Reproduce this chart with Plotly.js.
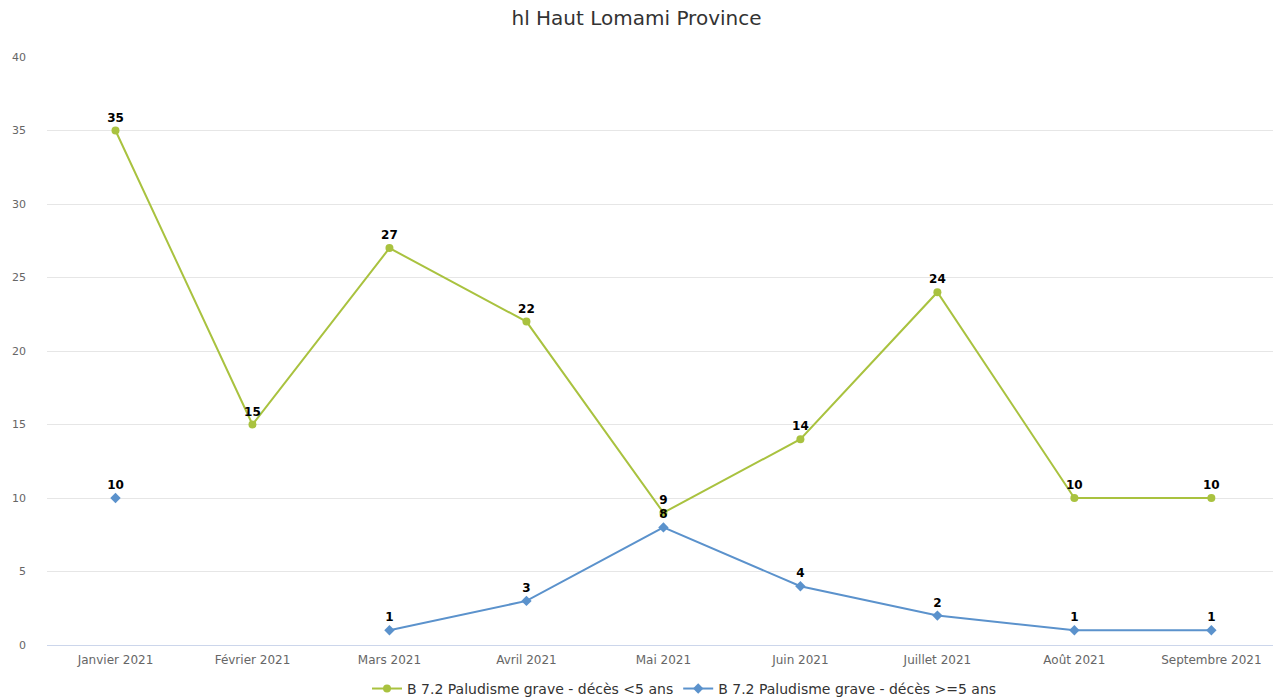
<!DOCTYPE html>
<html>
<head>
<meta charset="utf-8">
<script src="https://cdn.plot.ly/plotly-3.0.1.min.js"></script>
<style>html,body{margin:0;padding:0;background:#fff;}#chart{width:1273px;height:698px;}</style>
</head>
<body>
<div id="chart"></div>
<script>
const months = ["Janvier 2021","Février 2021","Mars 2021","Avril 2021","Mai 2021","Juin 2021","Juillet 2021","Août 2021","Septembre 2021"];
const under5 = [35, 15, 27, 22, 9, 14, 24, 10, 10];
const over5 = [10, null, 1, 3, 8, 4, 2, 1, 1];
const seriesNames = ["B 7.2 Paludisme grave - décès <5 ans", "B 7.2 Paludisme grave - décès >=5 ans"];
const yTicks = [0, 5, 10, 15, 20, 25, 30, 35, 40];

const labelFont = {family: "DejaVu Sans, sans-serif", size: 12, color: "#000", weight: "bold"};

const traces = [
  {
    x: months, y: under5, name: seriesNames[0], type: "scatter",
    mode: "lines+markers+text",
    line: {color: "#a9c23f", width: 2},
    marker: {color: "#a9c23f", size: 8, symbol: "circle"},
    text: under5.map(v => v == null ? "" : String(v)),
    textposition: "top center", textfont: labelFont,
    connectgaps: false, cliponaxis: false
  },
  {
    x: months, y: over5, name: seriesNames[1], type: "scatter",
    mode: "lines+markers+text",
    line: {color: "#5b92cc", width: 2},
    marker: {color: "#5b92cc", size: 8, symbol: "diamond"},
    text: over5.map(v => v == null ? "" : String(v)),
    textposition: "top center", textfont: labelFont,
    connectgaps: false, cliponaxis: false
  }
];

const layout = {
  width: 1273, height: 698,
  paper_bgcolor: "#fff", plot_bgcolor: "#fff",
  margin: {l: 47, r: 0, t: 57, b: 53, autoexpand: false},
  font: {family: "DejaVu Sans, sans-serif", color: "#666"},
  title: {text: "hl Haut Lomami Province", font: {family: "DejaVu Sans, sans-serif", size: 20, color: "#333"},
          x: 0.5, xanchor: "center", y: 0.974, yref: "container", yanchor: "middle"},
  xaxis: {
    type: "category", categoryorder: "array", categoryarray: months,
    range: [-0.5, 8.45], showgrid: false, showline: true, linecolor: "#ccd6eb", linewidth: 1,
    ticks: "", tickfont: {size: 12, color: "#666"}, ticklabelstandoff: 4,
    zeroline: false, fixedrange: true, automargin: false
  },
  yaxis: {
    range: [0, 40], tickvals: yTicks, ticktext: yTicks.map(String),
    showgrid: true, gridcolor: "#e6e6e6", gridwidth: 1, zeroline: false,
    showline: false, ticks: "", tickfont: {size: 11, color: "#666"},
    ticklabelstandoff: 20, fixedrange: true, automargin: false
  },
  showlegend: true,
  legend: {orientation: "h", x: 0.52, xanchor: "center", y: 0.013, yref: "container", yanchor: "middle",
           font: {size: 14, color: "#333"}, itemwidth: 30, tracegroupgap: 0},
  hovermode: false
};

Plotly.newPlot("chart", traces, layout, {displayModeBar: false, staticPlot: true});
</script>
</body>
</html>
